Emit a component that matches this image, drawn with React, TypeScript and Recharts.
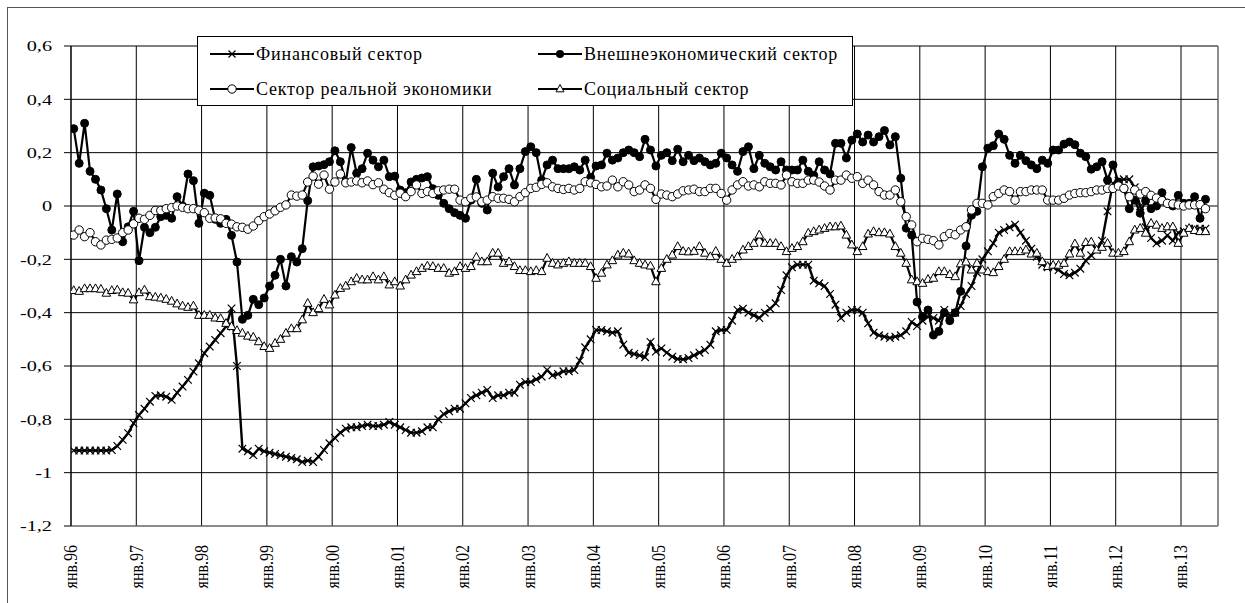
import { CartesianGrid, Line, LineChart, ReferenceLine, XAxis, YAxis } from "recharts";

// monthly index values, янв.96 .. май.13
const finSector = [
  -0.917, -0.917, -0.917, -0.917, -0.917, -0.917, -0.917, -0.915, -0.9, -0.877, -0.852, -0.815,
  -0.784, -0.76, -0.734, -0.712, -0.71, -0.715, -0.727, -0.7, -0.677, -0.652, -0.621, -0.59,
  -0.552, -0.527, -0.502, -0.477, -0.452, -0.384, -0.6, -0.91, -0.92, -0.934, -0.91, -0.92,
  -0.925, -0.93, -0.935, -0.94, -0.945, -0.95, -0.96, -0.955, -0.96, -0.94, -0.915, -0.89,
  -0.87, -0.85, -0.835, -0.83, -0.83, -0.825, -0.82, -0.825, -0.825, -0.82, -0.81, -0.82,
  -0.83, -0.84, -0.85, -0.85, -0.845, -0.83, -0.83, -0.8, -0.78, -0.77, -0.76, -0.76,
  -0.74, -0.72, -0.71, -0.7, -0.69, -0.72, -0.71, -0.71, -0.7, -0.7, -0.67, -0.66,
  -0.66, -0.65, -0.64, -0.615, -0.635, -0.63, -0.62, -0.62, -0.615, -0.58, -0.53, -0.5,
  -0.465, -0.465, -0.47, -0.475, -0.47, -0.52, -0.55, -0.555, -0.56, -0.567, -0.51, -0.546,
  -0.534, -0.55, -0.565, -0.574, -0.575, -0.57, -0.56, -0.55, -0.54, -0.52, -0.47, -0.465,
  -0.465, -0.43, -0.39, -0.385, -0.4, -0.41, -0.42, -0.4, -0.385, -0.365, -0.315, -0.26,
  -0.23, -0.22, -0.22, -0.22, -0.28, -0.29, -0.3, -0.33, -0.37, -0.42, -0.4, -0.39,
  -0.39, -0.4, -0.44, -0.475, -0.485, -0.49, -0.495, -0.49, -0.485, -0.47, -0.435, -0.45,
  -0.43, -0.415, -0.42, -0.43, -0.39, -0.41, -0.4, -0.375, -0.33, -0.3, -0.25, -0.2,
  -0.17, -0.14, -0.1, -0.09, -0.08, -0.07, -0.1, -0.13, -0.16, -0.19, -0.22, -0.23,
  -0.23, -0.24, -0.255, -0.26, -0.25, -0.235, -0.205, -0.185, -0.165, -0.13, -0.02, 0.085,
  0.095, 0.1, 0.1, 0.07, 0.0, -0.08, -0.12, -0.14, -0.13, -0.11, -0.13, -0.1,
  -0.095, -0.085, -0.085, -0.085, -0.085,
];

const extSector = [
  0.29, 0.16, 0.31, 0.13, 0.1, 0.06, -0.01, -0.09, 0.045, -0.134, -0.078, -0.02,
  -0.205, -0.08, -0.1, -0.08, -0.04, -0.035, -0.046, 0.035, 0.0, 0.12, 0.095, -0.065,
  0.048, 0.04, -0.05, -0.065, -0.05, -0.11, -0.21, -0.425, -0.41, -0.35, -0.37, -0.345,
  -0.3, -0.26, -0.2, -0.3, -0.19, -0.21, -0.16, 0.02, 0.147, 0.15, 0.155, 0.166,
  0.207, 0.166, 0.09, 0.219, 0.123, 0.14, 0.198, 0.172, 0.147, 0.172, 0.11, 0.112,
  0.06, 0.05, 0.09, 0.1, 0.105, 0.11, 0.065, 0.04, 0.01, -0.01, -0.025, -0.035,
  -0.046, 0.022, 0.1, 0.01, -0.015, 0.123, 0.071, 0.11, 0.14, 0.079, 0.14, 0.204,
  0.222, 0.2, 0.097, 0.154, 0.172, 0.14, 0.14, 0.14, 0.147, 0.135, 0.172, 0.107,
  0.15, 0.154, 0.198, 0.172, 0.18, 0.2, 0.21, 0.2, 0.185, 0.25, 0.21, 0.15,
  0.19, 0.2, 0.17, 0.213, 0.166, 0.19, 0.17, 0.18, 0.166, 0.154, 0.16, 0.198,
  0.18, 0.154, 0.13, 0.204, 0.222, 0.14, 0.19, 0.16, 0.147, 0.135, 0.166, 0.135,
  0.135, 0.135, 0.172, 0.13, 0.115, 0.166, 0.135, 0.12, 0.235, 0.235, 0.18, 0.247,
  0.27, 0.24, 0.266, 0.24, 0.26, 0.283, 0.229, 0.26, 0.104, -0.083, -0.109, -0.36,
  -0.415, -0.39, -0.484, -0.47, -0.4, -0.43, -0.4, -0.32, -0.15, -0.035, -0.02, 0.147,
  0.217, 0.226, 0.27, 0.25, 0.19, 0.16, 0.19, 0.17, 0.154, 0.14, 0.172, 0.16,
  0.21, 0.21, 0.232, 0.24, 0.23, 0.198, 0.185, 0.138, 0.147, 0.166, 0.097, 0.154,
  0.09, 0.066, -0.01, 0.022, -0.027, 0.02, -0.01, 0.0, 0.05, 0.01, 0.0, 0.04,
  0.01, 0.01, 0.035, -0.046, 0.025,
];

const realSector = [
  -0.109, -0.09, -0.115, -0.1, -0.134, -0.146, -0.128, -0.125, -0.12, -0.1, -0.09, -0.067,
  -0.046, -0.05, -0.035, -0.017, -0.017, -0.01, -0.006, 0.0, -0.005, -0.01, -0.01, -0.016,
  -0.025, -0.046, -0.045, -0.048, -0.065, -0.068, -0.078, -0.08, -0.087, -0.075, -0.055, -0.04,
  -0.03, -0.018, -0.005, 0.004, 0.041, 0.037, 0.041, 0.09, 0.112, 0.082, 0.116, 0.063,
  0.09, 0.12, 0.087, 0.09, 0.094, 0.087, 0.094, 0.08, 0.087, 0.063, 0.05, 0.04,
  0.048, 0.035, 0.054, 0.079, 0.047, 0.054, 0.047, 0.057, 0.06, 0.063, 0.063, 0.022,
  0.016, 0.029, 0.034, 0.016, 0.022, 0.035, 0.029, 0.029, 0.025, 0.016, 0.035, 0.05,
  0.066, 0.07, 0.081, 0.087, 0.072, 0.066, 0.062, 0.066, 0.06, 0.066, 0.091, 0.087,
  0.081, 0.072, 0.075, 0.097, 0.072, 0.091, 0.079, 0.054, 0.06, 0.079, 0.066, 0.025,
  0.045, 0.041, 0.035, 0.045, 0.057, 0.06, 0.063, 0.054, 0.054, 0.066, 0.066, 0.047,
  0.022, 0.06, 0.079, 0.091, 0.075, 0.079, 0.072, 0.091, 0.085, 0.085, 0.079, 0.116,
  0.091, 0.085, 0.085, 0.097, 0.097, 0.09, 0.075, 0.06, 0.097, 0.097, 0.116, 0.104,
  0.11, 0.085, 0.097, 0.079, 0.054, 0.041, 0.041, 0.06, 0.016, -0.04, -0.071, -0.134,
  -0.121, -0.125, -0.13, -0.146, -0.115, -0.103, -0.108, -0.09, -0.078, -0.015, 0.01, 0.01,
  0.004, 0.035, 0.047, 0.06, 0.054, 0.022, 0.054, 0.054, 0.06, 0.06, 0.06, 0.022,
  0.022, 0.022, 0.029, 0.041, 0.047, 0.05, 0.05, 0.054, 0.06, 0.06, 0.066, 0.066,
  0.075, 0.066, 0.035, 0.06, 0.045, 0.054, 0.04, 0.03, 0.02, 0.01, 0.008, 0.004,
  0.0, 0.004, 0.004, 0.005, -0.01,
];

const socSector = [
  -0.317, -0.32, -0.31, -0.31, -0.31, -0.312, -0.327, -0.317, -0.315, -0.325, -0.327, -0.352,
  -0.325, -0.315, -0.34, -0.342, -0.345, -0.35, -0.357, -0.367, -0.375, -0.38, -0.375, -0.41,
  -0.41, -0.41, -0.42, -0.422, -0.44, -0.452, -0.467, -0.477, -0.488, -0.492, -0.509, -0.527,
  -0.534, -0.515, -0.5, -0.477, -0.46, -0.46, -0.427, -0.365, -0.4, -0.385, -0.35, -0.371,
  -0.334, -0.309, -0.3, -0.284, -0.271, -0.277, -0.277, -0.265, -0.277, -0.265, -0.296, -0.284,
  -0.3, -0.277, -0.259, -0.246, -0.234, -0.225, -0.227, -0.234, -0.234, -0.252, -0.246, -0.227,
  -0.234, -0.227, -0.192, -0.209, -0.209, -0.177, -0.177, -0.215, -0.209, -0.227, -0.242, -0.242,
  -0.246, -0.242, -0.246, -0.196, -0.215, -0.221, -0.215, -0.209, -0.215, -0.215, -0.215, -0.227,
  -0.271, -0.252, -0.221, -0.205, -0.184, -0.177, -0.18, -0.205, -0.215, -0.221, -0.225, -0.284,
  -0.234, -0.2, -0.184, -0.152, -0.17, -0.172, -0.17, -0.152, -0.177, -0.19, -0.17, -0.2,
  -0.215, -0.2, -0.19, -0.165, -0.152, -0.14, -0.109, -0.14, -0.14, -0.14, -0.152, -0.171,
  -0.159, -0.152, -0.134, -0.102, -0.096, -0.09, -0.084, -0.078, -0.078, -0.075, -0.109, -0.146,
  -0.171, -0.152, -0.105, -0.096, -0.1, -0.1, -0.105, -0.152, -0.177, -0.215, -0.277, -0.284,
  -0.29, -0.275, -0.271, -0.246, -0.246, -0.257, -0.265, -0.217, -0.21, -0.24, -0.215, -0.24,
  -0.246, -0.25, -0.227, -0.2, -0.171, -0.171, -0.171, -0.165, -0.18, -0.177, -0.209, -0.227,
  -0.222, -0.222, -0.215, -0.18, -0.142, -0.177, -0.137, -0.135, -0.165, -0.155, -0.14, -0.177,
  -0.177, -0.171, -0.134, -0.09, -0.084, -0.102, -0.065, -0.072, -0.084, -0.078, -0.078, -0.14,
  -0.102, -0.084, -0.092, -0.096, -0.096,
];

const seriesNames = [
  "Финансовый сектор",
  "Внешнеэкономический сектор",
  "Сектор реальной экономики",
  "Социальный сектор",
];

const xTickMonths = [0, 12, 24, 36, 48, 60, 72, 84, 96, 108, 120, 132, 144, 156, 168, 180, 192, 204];
const xTickLabels = [
  "янв.96", "янв.97", "янв.98", "янв.99", "янв.00", "янв.01", "янв.02", "янв.03", "янв.04",
  "янв.05", "янв.06", "янв.07", "янв.08", "янв.09", "янв.10", "янв.11", "янв.12", "янв.13",
];
const yTicks = [-1.2, -1, -0.8, -0.6, -0.4, -0.2, 0, 0.2, 0.4, 0.6];

// points sit mid-month on the date axis
const data = finSector.map((v, i) => ({
  m: i + 0.5,
  fin: v,
  ext: extSector[i],
  real: realSector[i],
  soc: socSector[i],
}));

const FONT = "Liberation Serif";

function CrossDot(props: any) {
  const { cx, cy, index } = props;
  if (cx == null || cy == null) return null;
  const s = 3.8;
  return (
    <path
      key={`x-${index}`}
      d={`M${cx - s},${cy - s}L${cx + s},${cy + s}M${cx - s},${cy + s}L${cx + s},${cy - s}`}
      stroke="#000"
      strokeWidth={1.2}
      fill="none"
    />
  );
}

function TriangleDot(props: any) {
  const { cx, cy, index } = props;
  if (cx == null || cy == null) return null;
  return (
    <polygon
      key={`t-${index}`}
      points={`${cx},${cy - 4.8} ${cx - 4.3},${cy + 3} ${cx + 4.3},${cy + 3}`}
      fill="#fff"
      stroke="#000"
      strokeWidth={1}
    />
  );
}

function YTick(props: any) {
  const { x, y, payload } = props;
  const v = payload.value as number;
  const label = Number.isInteger(v) ? String(v) : v.toFixed(1).replace(".", ",");
  return (
    <text
      transform={`translate(${x},${y}) scale(1.35,1)`}
      textAnchor="end"
      dy="0.35em"
      fontSize={15}
      fontFamily={FONT}
      fill="#000"
    >
      {label}
    </text>
  );
}

function XTick(props: any) {
  const { x, y, payload } = props;
  const k = xTickMonths.indexOf(payload.value);
  return (
    <text
      transform={`translate(${x},${y + 19}) rotate(-90) scale(1,1.15)`}
      textAnchor="end"
      dy="0.35em"
      fontSize={16}
      fontFamily={FONT}
      fill="#000"
    >
      {xTickLabels[k]}
    </text>
  );
}

function LegendMark({ kind }: { kind: number }) {
  return (
    <svg width={44} height={14} style={{ display: "block" }}>
      <line x1={0} y1={7} x2={44} y2={7} stroke="#000" strokeWidth={2} />
      {kind === 0 && <path d="M18.5,3.5L25.5,10.5M18.5,10.5L25.5,3.5" stroke="#000" strokeWidth={1.2} />}
      {kind === 1 && <circle cx={22} cy={7} r={4} fill="#000" />}
      {kind === 2 && <circle cx={22} cy={7} r={4.2} fill="#fff" stroke="#000" />}
      {kind === 3 && <polygon points="22,2.5 18,9.8 26,9.8" fill="#fff" stroke="#000" />}
    </svg>
  );
}

function LegendBox() {
  const pos = [
    { left: 12, top: 7 },
    { left: 340, top: 7 },
    { left: 12, top: 42 },
    { left: 340, top: 42 },
  ];
  return (
    <div
      style={{
        position: "absolute",
        left: 197,
        top: 36,
        width: 656,
        height: 70,
        background: "#fff",
        border: "1px solid #000",
        boxSizing: "border-box",
        fontFamily: FONT,
        fontSize: 18,
        color: "#000",
      }}
    >
      {seriesNames.map((name, i) => (
        <div
          key={name}
          style={{ position: "absolute", left: pos[i].left, top: pos[i].top, height: 20, display: "flex", alignItems: "center", gap: 2, whiteSpace: "nowrap", letterSpacing: 0.8 }}
        >
          <LegendMark kind={i} />
          <span>{name}</span>
        </div>
      ))}
    </div>
  );
}

export default function App() {
  return (
    <div style={{ position: "fixed", left: 0, top: 0, width: 1245, height: 603, overflow: "hidden", background: "#fff" }}>
      <div
        style={{
          position: "absolute",
          left: 7,
          top: 7,
          width: 1300,
          height: 700,
          borderLeft: "1px solid #555",
          borderTop: "1px solid #555",
        }}
      />
      <div style={{ position: "absolute", left: 0, top: 0 }}>
        <LineChart width={1245} height={603} data={data} margin={{ top: 46, right: 27, bottom: 7, left: 11 }}>
          <CartesianGrid stroke="#000" strokeWidth={1} />
          <XAxis
            dataKey="m"
            type="number"
            domain={[0, 210.8]}
            ticks={xTickMonths}
            interval={0}
            height={70}
            tickSize={0}
            tickMargin={0}
            tickLine={false}
            axisLine={{ stroke: "#999" }}
            tick={<XTick />}
            allowDataOverflow
          />
          <YAxis
            type="number"
            domain={[-1.2, 0.6]}
            ticks={yTicks}
            width={60}
            tickSize={7}
            tickMargin={12}
            axisLine={{ stroke: "#000" }}
            tickLine={{ stroke: "#000" }}
            tick={<YTick />}
            interval={0}
          />
          <ReferenceLine x={210.8} stroke="#999" />
          <Line
            dataKey="fin"
            name={seriesNames[0]}
            type="linear"
            stroke="#000"
            strokeWidth={2.4}
            dot={<CrossDot />}
            isAnimationActive={false}
          />
          <Line
            dataKey="ext"
            name={seriesNames[1]}
            type="linear"
            stroke="#000"
            strokeWidth={2.2}
            dot={{ r: 4, fill: "#000", stroke: "#000", strokeWidth: 1 }}
            isAnimationActive={false}
          />
          <Line
            dataKey="real"
            name={seriesNames[2]}
            type="linear"
            stroke="#000"
            strokeWidth={2.2}
            dot={{ r: 4.2, fill: "#fff", stroke: "#000", strokeWidth: 1 }}
            isAnimationActive={false}
          />
          <Line
            dataKey="soc"
            name={seriesNames[3]}
            type="linear"
            stroke="#000"
            strokeWidth={2.2}
            dot={<TriangleDot />}
            isAnimationActive={false}
          />
        </LineChart>
      </div>
      <LegendBox />
    </div>
  );
}
